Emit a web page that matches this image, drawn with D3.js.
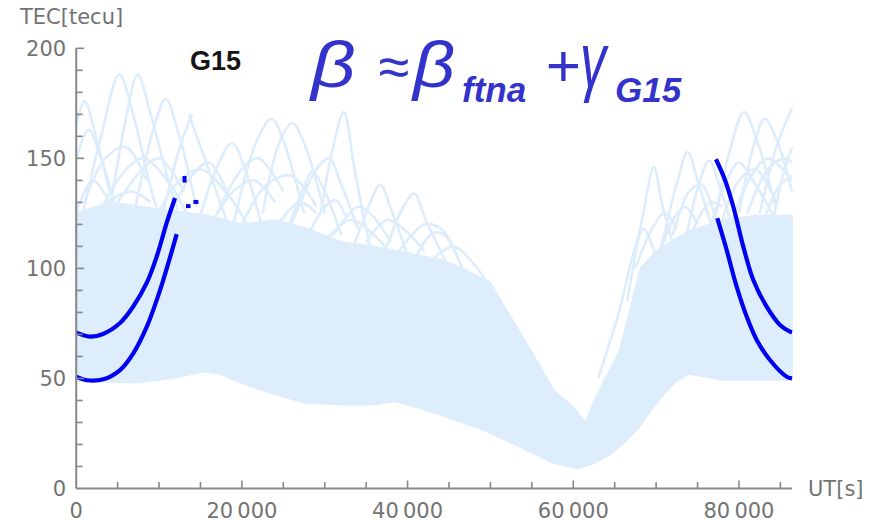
<!DOCTYPE html>
<html><head><meta charset="utf-8">
<script src="https://cdn.jsdelivr.net/npm/d3@7"></script>
<style>
html,body{margin:0;padding:0;background:#fff;}
svg{display:block;}
</style></head>
<body>
<script>
// ---------- DATA ----------
const xTicksMajor = [0, 20000, 40000, 60000, 80000];
const xTickLabels = ["0", "20\u2009000", "40\u2009000", "60\u2009000", "80\u2009000"];
const yTicksMajor = [0, 50, 100, 150, 200];
const yTickLabels = ["0", "50", "100", "150", "200"];

// light-blue background: envelope of the dense part of all traces
const bandLower = [[0,49],[3300,48.5],[7400,48],[11400,50],[15400,53],[17500,52],[19500,48.5],[23500,43.3],[27500,39],[32000,38],[35700,38],[38500,39.5],[41500,36.5],[44600,32.7],[49500,26],[53500,19],[57500,11.6],[60500,9],[62500,11.5],[64500,15.5],[66500,22],[68000,28],[69500,36],[71000,43],[72500,49],[74000,52],[75800,50.8],[78000,49.3],[86400,49.3]];
const bandUpper = [[0,125],[4000,130],[8000,128],[12000,126],[16000,124],[20000,120],[24000,122],[28000,118],[32000,112],[36000,110],[40000,107],[44000,104],[46600,100],[49900,94],[52700,76.5],[55100,61.4],[57600,44.8],[60000,37],[61500,30],[62400,39],[65600,63],[68100,100],[70000,108],[74000,117],[78000,122],[82000,124],[86400,124]];

// individual light-blue arcs rising above the dense area
const arcs = [
  [[0,150],[1500,163],[3000,150],[5000,125]],
  [[0,165],[1000,176],[2500,158],[4000,135]],
  [[0,125],[2000,140],[4000,130]],
  [[500,120],[3000,160],[5200,188],[7000,168],[9500,130],[12000,108]],
  [[4000,125],[6000,168],[7400,188],[9000,170],[11500,135],[14000,110]],
  [[7000,125],[9300,163],[10800,177],[12300,162],[14500,128]],
  [[10500,125],[12500,155],[14000,170]],
  [[13600,170],[15500,150],[18500,118]],
  [[14500,118],[17000,146],[18800,157],[20300,146],[22500,118]],
  [[19000,120],[21800,158],[23600,168],[25000,158],[27500,125]],
  [[22500,125],[24600,158],[26100,166],[27600,156],[30000,125]],
  [[25500,118],[27500,137],[28500,144],[30000,135],[32000,115]],
  [[28000,115],[30000,128],[31300,131],[32500,124]],
  [[2000,118],[5000,140],[8000,150],[11000,140],[14000,120]],
  [[9000,118],[12000,138],[15000,145],[18000,135],[21000,118]],
  [[16000,118],[19000,135],[21500,140],[24000,130]],
  [[1000,130],[3500,150],[6000,155],[8500,140]],
  [[5000,130],[8000,145],[10000,150],[13000,135]],
  [[11000,120],[13500,140],[16000,148],[18500,132]],
  [[17000,125],[20000,145],[22000,150],[25000,135]],
  [[20000,120],[23000,138],[26000,142],[29000,128]],
  [[24000,118],[27000,130],[29000,125]],
  [[3000,128],[6500,135],[9000,130]],
  [[29500,125],[31000,155],[32300,171],[33600,145],[35700,108],[38000,90]],
  [[33500,110],[35500,130],[36700,138],[38000,127],[40500,100]],
  [[37500,110],[39500,128],[40800,134],[42200,122],[45000,100]],
  [[41000,105],[43000,116],[44500,115],[47000,97],[50000,78]],
  [[30000,112],[33000,122],[36000,115],[39000,102]],
  [[31000,115],[34000,128],[35500,125],[38000,112]],
  [[35000,112],[37500,122],[39500,118],[42000,108]],
  [[39000,108],[42000,120],[44000,118],[46000,106]],
  [[43000,104],[45500,110],[48000,102],[50500,88]],
  [[26000,120],[29000,145],[30500,150],[32000,138],[34000,118]],
  [[63000,50],[65500,80],[67500,110],[68500,118],[70000,105]],
  [[66500,85],[68600,128],[69700,146],[70800,128],[72500,105]],
  [[67500,100],[69500,118],[71000,125],[72500,118]],
  [[70500,108],[72600,140],[73800,153],[75000,140],[77000,115]],
  [[72000,115],[74000,135],[75500,138],[77000,125]],
  [[73500,112],[75300,140],[76400,149],[77600,138],[79500,115]],
  [[74500,118],[76500,130],[78000,128]],
  [[77000,120],[79000,155],[80600,171],[82000,160],[84500,127]],
  [[80000,125],[81800,156],[83100,168],[84600,158],[86400,135]],
  [[82500,125],[84500,155],[86400,173]],
  [[76500,118],[78500,140],[80000,148],[82000,138],[85000,118]],
  [[70000,100],[72000,122],[73500,128],[75000,120]],
  [[79000,120],[81500,142],[83500,150],[86400,140]],
  [[84000,120],[85500,145],[86400,155]],
  [[78000,122],[80000,140],[82000,145],[84500,130]],
  [[81000,125],[83500,145],[85500,150],[86400,148]],
  [[83000,122],[85000,138],[86400,142]]
];

// G15 (dark blue) traces
const g15UpperLeft = [[0,70.8],[1670,69],[3230,70.2],[5290,75.2],[6860,82.6],[8510,93.4],[9720,105.4],[10920,120.7],[11930,132]];
const g15LowerLeft = [[0,50.8],[1270,49.2],[3270,49.6],[5290,53.8],[6890,61.4],[8510,73.4],[10110,90],[11320,105],[12130,115.6]];
const g15UpperRight = [[77220,149.6],[78310,140.2],[79310,128.1],[80520,109.9],[81720,94.8],[83340,82.6],[84950,74.3],[86160,71.3],[86400,71]];
const g15LowerRight = [[77380,122.8],[78510,108.4],[79720,91.7],[80930,78.1],[82140,67.5],[83740,58.4],[85760,50.8],[86400,50]];
const g15Fragments = [
  [[13080,139],[13080,142]],
  [[13250,128.3],[13800,128.3]],
  [[14150,130.2],[14750,130.2]]
];

// ---------- DRAW ----------
const W = 877, H = 522;
const svg = d3.select("body").append("svg").attr("width", W).attr("height", H)
  .style("font-family", "'DejaVu Sans', sans-serif");
svg.append("rect").attr("width", W).attr("height", H).attr("fill", "#fff");

const x = d3.scaleLinear().domain([0, 86400]).range([76.2, 792]);
const y = d3.scaleLinear().domain([0, 200]).range([488.5, 48.3]);

const light = "#ddedfc";
const line = d3.line().x(d => x(d[0])).y(d => y(d[1])).curve(d3.curveCatmullRom);
const poly = d3.line().x(d => x(d[0])).y(d => y(d[1]));

svg.append("path")
  .attr("d", poly(bandLower.concat(bandUpper.slice().reverse())) + "Z")
  .attr("fill", light).attr("stroke", light).attr("stroke-width", 1.5);

svg.append("g").selectAll("path").data(arcs).join("path")
  .attr("d", line).attr("fill", "none").attr("stroke", light)
  .attr("stroke-width", 2.6).attr("stroke-linejoin", "round");

const blue = "#0000f0";
svg.append("g").selectAll("path").data([g15UpperLeft, g15LowerLeft, g15UpperRight, g15LowerRight]).join("path")
  .attr("d", line).attr("fill", "none").attr("stroke", blue)
  .attr("stroke-width", 4.2).attr("stroke-linecap", "butt");
svg.append("g").selectAll("path").data(g15Fragments).join("path")
  .attr("d", poly).attr("fill", "none").attr("stroke", blue).attr("stroke-width", 4);

// axes
const axisColor = "#888";
const labelColor = "#737373";
const gx = svg.append("g").attr("transform", `translate(0,${y(0)})`);
gx.append("line").attr("x1", x(0)).attr("x2", x(86400)).attr("stroke", axisColor).attr("stroke-width", 2);
gx.selectAll("line.tk").data(d3.range(5000, 86401, 5000)).join("line").attr("class","tk")
  .attr("x1", d => x(d)).attr("x2", d => x(d))
  .attr("y1", 0).attr("y2", d => d % 20000 === 0 ? -8 : -6.5)
  .attr("stroke", axisColor).attr("stroke-width", 1.6);
gx.selectAll("text").data(xTicksMajor).join("text")
  .attr("x", d => x(d)).attr("y", 29).attr("text-anchor", "middle")
  .attr("font-size", 21).attr("fill", labelColor)
  .text((d, i) => xTickLabels[i]);

const gy = svg.append("g").attr("transform", `translate(${x(0)},0)`);
gy.append("line").attr("y1", y(0)).attr("y2", y(200)).attr("stroke", axisColor).attr("stroke-width", 2);
gy.selectAll("line.tk").data(d3.range(10, 201, 10)).join("line").attr("class","tk")
  .attr("y1", d => y(d)).attr("y2", d => y(d))
  .attr("x1", 0).attr("x2", d => d % 50 === 0 ? 8 : 6.5)
  .attr("stroke", axisColor).attr("stroke-width", 1.6);
gy.selectAll("text").data(yTicksMajor).join("text")
  .attr("x", -10).attr("y", d => y(d)).attr("dy", "0.36em").attr("text-anchor", "end")
  .attr("font-size", 21).attr("fill", labelColor)
  .text((d, i) => yTickLabels[i]);

svg.append("text").attr("x", 20).attr("y", 24).attr("font-size", 21).attr("fill", labelColor).text("TEC[tecu]");
svg.append("text").attr("x", 808).attr("y", 496).attr("font-size", 21).attr("fill", labelColor).text("UT[s]");

// title
svg.append("text").attr("x", 190).attr("y", 70)
  .attr("font-family", "'Liberation Sans', Arial, sans-serif").attr("font-weight", "bold")
  .attr("font-size", 27).attr("fill", "#151515").text("G15");

// formula
const fc = "#3333cc";
const fg = svg.append("g").attr("fill", fc)
  .attr("font-family", "'Liberation Sans', Arial, sans-serif").attr("font-style", "italic");
function ftxt(tx, ty, sx, sy, size, weight, s) {
  fg.append("text").attr("transform", `translate(${tx},${ty}) scale(${sx},${sy})`)
    .attr("font-size", size).attr("font-weight", weight).text(s);
}
ftxt(311, 87, 1.22, 1, 64, "normal", "β");
ftxt(378, 86, 1, 1, 56, "normal", "≈");
ftxt(413, 87, 1.15, 1, 64, "normal", "β");
ftxt(462, 102, 1, 1, 35, "bold", "ftna");
ftxt(545, 86, 1, 1, 60, "normal", "+");
ftxt(580, 87, 0.82, 1.22, 64, "normal", "γ");
ftxt(615, 102, 1, 1, 35, "bold", "G15");
</script>
</body></html>
